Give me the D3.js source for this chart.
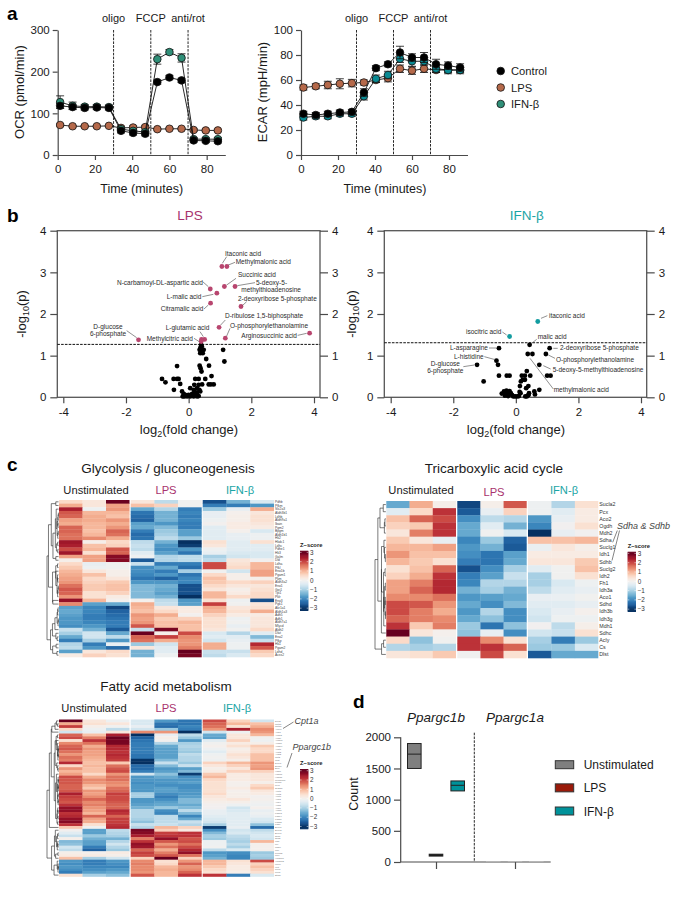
<!DOCTYPE html>
<html><head><meta charset="utf-8">
<script src="https://cdn.jsdelivr.net/npm/d3@7"></script>
<style>
html,body{margin:0;padding:0;background:#fff}
svg{display:block}
text{font-family:"Liberation Sans",Arial,sans-serif;fill:#1a1a1a}
</style></head><body>
<svg id="c" width="685" height="897"></svg>
<script>
// ---------- panel a ----------
const times=[1.3,8,14.5,21,27.5,34,40.5,47,53.5,60,66.5,73,79.5,86];
const ocrControl=[118,115,113,114,113,58,53,51,175,186,179,35,34,33];
const ocrLPS=[72,69,69,69,70,65,66,67,62,63,63,60,59,59];
const ocrIFN=[127,118,116,116,115,62,58,55,230,247,233,38,38,38];
const ocrControlErr=[6,5,5,5,5,5,5,5,5,5,5,4,4,4];
const ocrLPSErr=[3,2,2,2,2,4,4,4,2,2,2,3,3,3];
const ocrIFNErr=[15,9,5,5,5,4,4,4,12,6,10,4,4,4];
const ecarControl=[33,32,33,34,34.5,50,69.5,72.6,82,78,78,72.6,71.5,70];
const ecarLPS=[54,55,56,57,57.5,58,60,61.5,69,67.5,69,68,68,68];
const ecarIFN=[30,31,31,33,33,47,61,64,77,75,75,69,68,68];
const ecarControlErr=[2,2,2,2,2,3,2,2,5,3,4,4,3,3];
const ecarLPSErr=[2,2,3,4,3,2,2,3,3,3,3,2,2,2];
const ecarIFNErr=[2,2,2,2,2,3,3,3,3,4,3,3,3,3];
const injections=[30,50,70];
const injectionNames=["oligo","FCCP","anti/rot"];
const seriesNames=["Control","LPS","IFN-β"];

// ---------- panel b ----------
const lpsHits=[[1.06,3.14],[1.22,3.14],[.69,2.6],[1.14,2.66],[1.48,2.66],[.9,2.5],[.7,2.26],[1.67,2.18],[.97,1.68],[1.17,1.42],[3.86,1.54],[-1.6,1.38],[.51,1.39],[.41,1.39],[.4,1.34]];
const lpsOther=[[.4,1.26],[.38,1.2],[.42,1.22],[.35,1.14],[.43,1.14],[.48,1.14],[.37,1.06],[.45,1.06],[1.1,1.14],[1.14,.86],[.56,.92],[.65,.76],[-.37,.75],[.35,.76],[.38,.7],[.41,.62],[.73,.51],[-.85,.44],[-.74,.36],[-.48,.44],[-.37,.44],[-.32,.44],[-.27,.32],[-.47,.18],[.21,.44],[.32,.44],[.53,.44],[.64,.31],[.8,.31],[.71,.31],[.18,.3],[.32,.3],[.43,.31],[.27,.22],[.16,.18],[.05,.22],[.34,.18],[.37,.14],[-.21,.14],[-.16,.08],[-.11,.06],[0,.06],[.11,.08],[.21,.08],[-.19,.02],[-.14,.02],[-.05,.02],[.05,.02],[.16,.02],[.27,.02],[.32,.03],[.27,.11],[.19,.14]];
const ifnHits=[[.7,1.82],[-.2,1.46]];
const ifnOther=[[.44,1.26],[-.54,1.18],[1.08,1.18],[.96,1.04],[.38,1.04],[.53,1.04],[-.62,.88],[-.57,.78],[-1.24,.78],[.75,.78],[-1.03,.38],[-.54,.52],[-.29,.52],[-.2,.52],[.35,.63],[.46,.52],[1,.52],[1.11,.52],[.19,.52],[.29,.52],[.22,.42],[.16,.38],[.29,.42],[.13,.27],[.4,.27],[.75,.18],[.59,.14],[.61,.07],[-.45,.09],[-.38,.14],[-.33,.09],[-.3,.16],[-.27,.1],[-.22,.07],[-.2,.15],[-.16,.1],[-.12,.05],[-.08,.02],[-.02,.02],[.05,.02],[.1,.03],[.15,.1],[.3,.02],[.35,.02],[.4,.05],[.42,.1],[-.35,.04],[-.25,.03],[.12,.13],[.33,.22]];
const lpsLabels=[["Itaconic acid",225,253.3,"start"],["Methylmalonic acid",235.7,262,"start"],["Succinic acid",238,275,"start"],["5-deoxy-5-",256,282.7,"start"],["methylthioadenosine",241.3,290,"start"],["N-carbamoyl-DL-aspartic acid",117,282.7,"start"],["L-malic acid",166.7,297,"start"],["Citramalic acid",160.7,309,"start"],["2-deoxyribose 5-phosphate",238,298.3,"start"],["D-ribulose 1,5-biphosphate",225,315.7,"start"],["L-glutamic acid",165.7,327.3,"start"],["O-phosphorylethanolamine",230,325.7,"start"],["D-glucose",108,326.7,"middle"],["6-phosphate",108,333.7,"middle"],["Methylcitric acid",146.7,338.3,"start"],["Arginosuccinic acid",241.3,335.3,"start"]];
const lpsLeaders=[[680,170,667,190],[705,187,685,195],[708,235,680,255],[765,248,712,257],[608,245,625,260],[607,290,640,283],[612,327,625,315],[740,305,728,316],[676,360,662,375],[690,385,680,408],[600,395,610,410],[582,415,598,425],[380,392,410,413],[893,406,920,400]];
const ifnLabels=[["itaconic acid",549,315.7,"start"],["isocitric acid",466,332,"start"],["malic acid",537.7,336.7,"start"],["L-asparagine",450,347.7,"start"],["2-deoxyribose 5-phosphate",560,348,"start"],["L-histidine",454,356.3,"start"],["O-phosphorylethanolamine",556,359.3,"start"],["D-glucose",445.3,363.7,"middle"],["6-phosphate",445.3,371,"middle"],["5-deoxy-5-methylthioadenosine",552.7,369.7,"start"],["methylmalonic acid",553.7,390,"start"]];
const ifnLeaders=[[622,347,603,355],[487,396,500,405],[590,418,575,430],[447,444,470,444],[640,445,653,445],[433,470,462,478],[625,465,645,475],[370,500,403,495],[610,497,632,507],[570,475,640,567]];

// ---------- panel c ----------
const groupNames=["Unstimulated","LPS","IFN-β"];
const glycoGenes=["Pdhb","Pfkm","Slc2a3","Aldh3b1","Ldhb","Aldh9a1","Ibain","Pgm2","Bpgm","Aldh1b1","Hk2","Hkdc1","Ldhc","Pdhe1","Hk3","Galm","Dld","Ldha","Pfkl","Eno1b","Pgam1","Pkm","Aldh3a2","Eno1","Gpi1","Tpi1","Pklr","Eno3","Pgk1","Akr1a1","Aldh1a3","Adh5","Adh1","Aldh7a1","Mlycd","Aldh2","Dlat","Eno2","Pfkp","Hk1","Pgam2","Ldhd","Acss2"];
const glycoRows=[
[.5,.3,2.7,.3,-.7,-.05,-2.4,-1.3,-.4],[1,.3,1.1,.8,.6,-.05,-1.9,-1.9,-1.6],[2.2,-.1,1.2,-1.4,-.8,-1.9,-1,-.2,1],[1.7,.9,.9,-2,-1.3,-1.8,-.2,.05,.3],[1.6,1,.8,-2.1,-1.3,-1.9,-.2,.1,.4],[1.1,1,1.2,-2.2,-1.3,-1.8,-.1,.1,.4],[1,.9,1,-1.5,-1.6,-1.9,0,.2,.3],[1.6,.9,1.2,-1.4,-1.2,-1.9,-.3,.2,.2],[1.6,.8,1.6,-1.9,-1,-1.5,-.3,.05,-.4],[1.5,.9,1.5,-2.1,-.9,-1.5,-.3,-.2,-.1],[1.5,1.3,1,-2,-.7,-1,-.3,-.2,-.1],
[2.3,.1,.5,-.7,-1.3,-2.8,.4,-.3,.4],[2.2,.8,.6,-.6,-1.6,-2.6,.3,-.3,-.3],[1.8,.9,1.7,-.7,-1.7,-1.6,-.1,-.3,-.3],[2.3,.4,1.6,-.3,-1.5,-2,-.2,-.4,-.4],[1.1,1.1,2.5,-.1,-.8,-.7,-.9,-.5,-.4],[.1,1.1,2.5,-2.3,-.8,-.7,-.7,.3,0],[.5,-.2,-.05,-.6,-1.9,-1.9,1.8,.4,.9],[.7,-.1,-.05,-1.7,-1.4,-2.1,1.8,.5,.9],[.9,.3,.1,-1.7,-1.9,-.9,-.05,-.5,1.1],[1,.8,.1,-1.8,-1.6,-2,.5,.1,1.1],[1.1,.5,.3,-2,-2.2,-1.8,.8,.1,.1],
[1.2,.6,.7,-1.6,-1.6,-1.8,.7,.5,.6],[1.5,.7,.8,-1.2,-1.3,-2.4,.5,.3,.3],[1.7,.7,.8,-1.2,-1.4,-2.4,.3,.1,.4],[1.6,.4,.6,-1.2,-1.5,-2.4,.9,.2,.5],[1.2,.4,.2,-1.2,-1.3,-2.8,.9,.5,.5],[2.4,.9,.05,.05,-.7,-1.6,.4,-.1,-2.4],[1.3,-1.5,-1.4,1,-.6,-1.5,1.9,-.05,.3],
[-1.5,-1.8,-2.5,.9,.3,.2,1,.3,.4],[-1.4,-1.8,-2.2,.8,.5,.2,.9,.4,1],[-1.5,-1.9,-2.1,1.2,1,0,.6,.2,.2],[-1.6,-1.9,-2,1.1,.7,.6,.4,-.1,.3],[-1.6,-1.8,-1.9,1.2,.8,.9,.4,-.05,.3],[-1.7,-1.6,-1.9,1.7,.8,.8,.4,-.2,.3],[-.6,-1.3,-2.3,-.6,2.6,.8,.3,-.05,.5],[-.9,-.5,-1.4,2.7,.1,1.8,-.4,-.8,-.3],[-1.4,-.5,-.7,1.6,1.9,1.3,-.3,-.3,-1.2],[-1.9,-.9,-1.6,1.5,1,1.2,-.5,-.2,-.6],[-.8,-1.9,-.2,-1,-.5,1.2,1,-.1,2.1],[-.7,-1.6,-2.1,.3,-.3,1.4,1,-.1,1.7],[-1.5,.3,.5,-1.3,-.3,2.8,-.6,-.6,.7],[.2,.6,.4,-1.3,-.1,2.6,-.7,-.4,.5]];
const tcaGenes=["Sucla2","Pcx","Aco2","Ogdh","Mdh2","Sdha","Suclg1","Idh1","Sdhb","Suclg2","Idh2","Fh1","Idh3a","Aco1","Sdhd","Idh3b","Idh3g","Mdh1","Sdhc","Acly","Cs","Dlst"];
const tcaRows=[
[-1.4,1,.1,-2.5,.1,1.7,-.1,-.8,.4],[-.3,.5,2,-2.3,-.2,.6,-.1,-.3,.2],[.8,1.6,1.8,-1.7,-.7,-.8,-1.6,-.2,.2],[.6,.7,2,-1.4,-.3,-1.3,-1.8,-.02,.4],[.3,1.4,2,-1.4,-.03,-.4,-2.9,-.2,-.02],[.7,.3,-.2,-1.8,-1,-2.2,.8,.8,.9],[.9,.9,1.1,-1.6,-1.3,-2.3,-.15,.3,.1],[1.2,.8,.8,-1.7,-2,-1.5,.2,.2,.2],[.9,.7,.4,-1.9,-2,-1.4,.3,.3,.7],[.4,.8,1.6,-2.4,-1.7,-.9,-.3,-.05,.8],[.6,1,2,-1.9,-1.5,-.6,-.9,-.03,.4],[1.1,1.4,2.1,-1.8,-.8,-.8,-.9,-.4,-.1],[1.1,1.6,2.1,-1.3,-.9,-1.3,-.7,-.3,-.2],[1.3,1.3,1.5,-1.6,-1.5,-1.4,-.2,-.15,-.05],[1.8,1.7,1.2,-1.4,-1.7,-1.2,-.3,-.3,-.2],[1.8,1.4,1,-1.6,-.8,-1.7,-.4,-.2,.05],[1.6,1.4,1.3,-1.4,-1.1,-1.7,-.5,-.1,-.1],[2,.7,1.4,-1,-2,-1.1,-.02,-.7,.1],[3,.3,.05,-1.1,-.2,-1.7,-.5,-.6,.4],[.5,-1.1,-.05,2,1.3,.4,-.9,-1.9,-1],[-.8,-.9,-.8,2,2,1.6,-1,-1,-.4],[.3,.4,.7,-.05,1.8,.4,-2.3,-1.4,-1.4]];
const fattyGenes=["Dcn2","Cpt1b","Cpt1a","Acox1","Acsl1","Acaa2","Acadl","Acadm","Acads","Acadvl","Acat1","Acat2","Aldh2","Cpt2","Crat","Decr1","Echs1","Eci1","Hadh","Hadha","Hadhb","Ppargc1b","Ppara","Pecr","Slc25a","Acot1","Acot2","Acot7","Acsl3","Acsl4","Acsl5","Acsl6","Acss1","Fabp3","Fabp4","Fads1","Fads2","Fasn","Elovl1","Elovl5","Elovl6","Scd1","Scd2","Mgll","Lpl","Cd36","Ldlr","Pnpla2","Lipe","Hmgcs1","Hmgcs2","Mcee","Mut","Pcca","Pccb","Etfdh"];
const fattyRows=[
[2.8,.3,-.1,-.4,-1.6,-2,1.8,.6,-.5],[1,.4,.3,-.4,-2,-2,1.6,.9,.8],[1.9,.1,-.05,-.2,-2.1,-1.8,1.5,.4,1],[.5,-.1,-.7,-.5,-1,-1.9,1.2,2.2,1.3],[-.5,-.2,.3,1.3,1.2,-2.9,-.5,-.1,1.2],[1.6,.8,2.2,-3,-.2,-.7,-1.4,.3,.9],[1.8,1.4,2.7,-2.2,.1,-1,-1.5,.3,-.05],[.4,2,2.6,-2,.02,-1.6,-.3,.6,-.1],[1.3,1.5,2.6,-1.9,-.8,-.9,-.05,.2,.1],[1.6,1,2.1,-1.9,-1.4,-.8,.05,.4,.7],[1.7,1.2,2.1,-1.9,-1.5,-.9,-.1,.1,.5],[1.5,1.1,2,-1.9,-1.5,-1,-.3,.2,.5],[1.2,1.1,2.1,-2,-1.5,-.7,-.1,.4,.8],[1.5,1,2,-2,-1.5,-.8,-.05,.3,.8],[1.4,.9,1.9,-2.7,-1.2,-.8,-.1,.1,.8],[2.1,.8,.7,-2.8,-.6,-1,.6,.9,1.2],[.5,.9,1.5,-2.1,-1.2,-.6,.3,.6,1.1],[1.2,.8,1.7,-2.1,-1.6,-1.5,.1,.3,1.2],[.9,.8,1.8,-1.9,-1.5,-1.2,.2,.6,.6],[1.1,.5,1.2,-.5,-1.1,-2.6,.7,.2,.3],[1.8,1,1.5,-1.6,-1.4,-1.7,.9,.2,.3],[1.7,1.3,1.5,-1.6,-1.6,-1.6,.5,.2,.3],[1.7,1.2,1.3,-1.7,-1.6,-1.5,.4,.05,.1],[1.6,.9,1.2,-1.6,-1.7,-1.7,.4,.05,.5],[1.6,.7,1.5,-1.6,-1.5,-1.7,.4,.2,.7],[1.7,1.2,1.6,-1.6,-1.5,-1.6,.4,.05,.3],[2.2,1.1,1.9,-.9,-1.7,-1.6,.5,.1,.2],[1.9,1.3,1.8,-.9,-1.9,-1.5,.3,.1,0],[1.8,1.6,1.8,-1.6,-1.7,-1.2,.2,.3,.05],[1.7,1.3,1.7,-1.6,-1.5,-1.2,.1,.1,-.05],[2,1.4,1.6,-1.5,-1.4,-1.4,0,-.1,-.1],[2.4,1.2,1.6,-1.3,-1,-1.2,-.02,-.5,.05],[2.4,1.1,2.1,-.8,-1.7,-.7,-.2,-.4,-.2],[2,.9,2,-.8,-1.8,-1.2,-.2,-.3,-.1],[2.1,1.6,1.6,-.8,-.7,-1.8,-.3,-.3,-.2],[2.4,1.1,1.9,-.9,-.7,-1.4,-.4,-.3,-.4],[2.5,1,1.9,-1.1,-.7,-.6,-.5,-.3,-.5],[2,.4,2,-.6,-.6,-.8,-.9,-.3,-1.1],[.7,-.05,2.1,-.8,.9,.6,-2.6,-.2,-2.1],[0,-1.5,-.7,2.6,.6,.2,-1.7,-.5,-.7],[-.3,-1.5,-.8,2.5,1.9,2,-1.2,-.4,-.5],[-.6,-1,-.9,2.2,2,2,-.9,-.7,-.4],[.1,-1.3,-1.3,1.4,2.4,1.7,-1,-.8,-.5],[-1.2,-1.5,-.8,2,1.7,1.8,-.1,-.9,.9],[-1.1,-1.5,-.5,2.4,1.2,1.5,-.1,-.7,.05],[-.5,-1.9,-.8,2.3,1.5,1.8,-.05,-.9,.05],[-.7,-2.2,-1,1.6,1,2.1,-.7,-.4,.05],[.1,.05,.2,1.9,1.4,2.4,-1.6,-1.7,-1],[.2,.2,.1,1.8,1.7,1.5,-1.5,-1.8,-.9],[.8,-.9,-.5,.6,3,.6,-1.3,-1.8,-1],[-1.6,-1.9,-1.6,1.3,.4,1.2,.9,.4,1.8],[-1.7,-1.9,-1.7,1.4,.5,1.6,.9,.3,.6],[-1.6,-1.8,-1.8,1.3,.9,1.2,.7,.2,.8],[-1.7,-1.7,-1.6,1.3,1,1.3,.5,.2,.6],[-1.9,-1.5,-1.4,1.2,.9,1.6,.4,.1,.4],[.4,-.9,-1.1,1.7,.9,2,2,-1.9,-.4]];
const zTicks=[3,2,1,0,-1,-2,-3];

// ---------- panel d ----------
const genes=["Ppargc1b","Ppargc1a"];
const countGroups=["Unstimulated","LPS","IFN-β"];
const countLow=[[1500,95,1140],[2,2,2]];
const countMid=[[1730,110,1230],[4,4,4]];
const countHigh=[[1900,125,1300],[6,6,6]];
const countTicks=[0,500,1000,1500,2000];

// ---------- drawing ----------
const svg=d3.select("#c");
const INK="#1a1a1a", AX="#4a4a4a";
const cLPS="#b5694a", cIFNa="#2f8f78", cIFNe="#0a8a93";
const magenta="#a8336d", teal="#1ba5a5";

function txt(g,s,x,y,o={}){
  const t=g.append("text").attr("x",x).attr("y",y).text(s)
    .attr("font-size",o.size||11).attr("text-anchor",o.anchor||"start");
  if(o.color)t.style("fill",o.color);
  if(o.italic)t.attr("font-style","italic");
  if(o.bold)t.attr("font-weight","bold");
  if(o.rotate)t.attr("transform",`rotate(-90 ${x} ${y})`);
  return t;
}
function styleAxis(g,w,size,pad){
  g.selectAll("path,line").attr("stroke",AX).attr("stroke-width",w);
  g.selectAll("text").attr("font-size",size).attr("font-family",'"Liberation Sans",Arial,sans-serif').style("fill",INK);
}
// letters
[["a",7,20],["b",7,222],["c",7,471],["d",353,708]].forEach(d=>txt(svg,d[0],d[1],d[2],{size:19,bold:true,color:"#000"}));

// panel a
function seahorse(o){
  const g=svg.append("g");
  const x=d3.scaleLinear().domain([0,90]).range([o.x0,o.x1]);
  const y=d3.scaleLinear().domain([0,o.max]).range([155,30]);
  g.append("g").attr("transform","translate(0,155)").call(d3.axisBottom(x).tickValues([0,20,40,60,80]).tickSize(5).tickSizeOuter(0).tickPadding(5)).call(s=>styleAxis(s,1.2,11.5));
  g.append("g").attr("transform",`translate(${o.x0},0)`).call(d3.axisLeft(y).tickValues(o.ticks).tickSize(5).tickSizeOuter(0).tickPadding(3)).call(s=>styleAxis(s,1.2,11.5));
  injections.forEach((t,i)=>{
    g.append("line").attr("x1",x(t)).attr("x2",x(t)).attr("y1",30).attr("y2",155).attr("stroke","#111").attr("stroke-width",.9).attr("stroke-dasharray","2.6,1.2");
    txt(g,injectionNames[i],x(t),22,{anchor:"middle",size:11});
  });
  const line=d3.line().x((d,i)=>x(times[i])).y(d=>y(d));
  o.series.forEach(s=>{
    g.append("path").attr("d",line(s.v)).attr("fill","none").attr("stroke","#111").attr("stroke-width",.9);
    s.v.forEach((v,i)=>{
      const xx=x(times[i]);
      const lo=y(v-s.e[i]),hi=y(v+s.e[i]);
      g.append("path").attr("d",`M${xx},${lo}V${hi}M${xx-4},${lo}H${xx+4}M${xx-4},${hi}H${xx+4}`).attr("stroke","#111").attr("stroke-width",.8).attr("fill","none");
    });
    g.selectAll(null).data(s.v).join("circle").attr("cx",(d,i)=>x(times[i])).attr("cy",d=>y(d)).attr("r",3.8).attr("fill",s.c).attr("stroke","#111").attr("stroke-width",.8);
  });
  txt(g,o.label,o.lx,92,{anchor:"middle",size:13,rotate:true});
  txt(g,"Time (minutes)",o.tx,192.5,{anchor:"middle",size:12.5});
}
seahorse({x0:57.7,x1:225.3,max:300,ticks:[0,100,200,300],label:"OCR (pmol/min)",lx:24,tx:141.7,
  series:[{v:ocrLPS,e:ocrLPSErr,c:cLPS},{v:ocrIFN,e:ocrIFNErr,c:cIFNa},{v:ocrControl,e:ocrControlErr,c:"#000"}]});
seahorse({x0:301,x1:467.5,max:100,ticks:[0,20,40,60,80,100],label:"ECAR (mpH/min)",lx:267,tx:385,
  series:[{v:ecarLPS,e:ecarLPSErr,c:cLPS},{v:ecarIFN,e:ecarIFNErr,c:cIFNe},{v:ecarControl,e:ecarControlErr,c:"#000"}]});
seriesNames.forEach((n,i)=>{
  const yy=d3.scalePoint().domain(seriesNames).range([71,104])(n);
  svg.append("circle").attr("cx",500.7).attr("cy",yy).attr("r",3.8).attr("fill",["#000",cLPS,cIFNa][i]).attr("stroke","#111").attr("stroke-width",.8);
  txt(svg,n,511,yy+4,{size:11.2});
});

// panel b
function volcano(o){
  const g=svg.append("g");
  const x=d3.scaleLinear().domain([-4,4]).range([o.xm4,o.xp4]);
  const y=d3.scaleLinear().domain([0,4]).range([397.3,230.7]);
  const vals=[0,1,2,3,4];
  g.append("rect").attr("x",o.l).attr("y",230.7).attr("width",o.r-o.l).attr("height",166.6).attr("fill","none").attr("stroke","#555").attr("stroke-width",1.3);
  g.append("g").attr("transform","translate(0,397.3)").call(d3.axisBottom(x).tickValues([-4,-2,0,2,4]).tickFormat(d=>d).tickSize(6).tickSizeOuter(0).tickPadding(5)).call(s=>styleAxis(s,1.2,11.5)).call(s=>s.select(".domain").remove());
  g.append("g").attr("transform",`translate(${o.l},0)`).call(d3.axisLeft(y).tickValues(vals).tickFormat(d=>d).tickSize(7).tickSizeOuter(0).tickPadding(4)).call(s=>styleAxis(s,1.2,11.5)).call(s=>s.select(".domain").remove());
  g.append("g").attr("transform",`translate(${o.r},0)`).call(d3.axisRight(y).tickValues(vals).tickFormat(d=>d).tickSize(8).tickSizeOuter(0).tickPadding(4)).call(s=>styleAxis(s,1.2,11.5)).call(s=>s.select(".domain").remove());
  g.append("line").attr("x1",o.l).attr("x2",o.r).attr("y1",y(o.thr)).attr("y2",y(o.thr)).attr("stroke","#111").attr("stroke-width",1).attr("stroke-dasharray","2.6,1.2");
  g.selectAll(null).data(o.other).join("circle").attr("cx",d=>x(d[0])).attr("cy",d=>y(d[1])).attr("r",2.4).attr("fill","#000");
  g.selectAll(null).data(o.hits).join("circle").attr("cx",d=>x(d[0])).attr("cy",d=>y(d[1])).attr("r",2.4).attr("fill",o.hc);
  o.leaders.forEach(d=>g.append("line").attr("x1",o.ox+d[0]/3).attr("y1",200+d[1]/3).attr("x2",o.ox+d[2]/3).attr("y2",200+d[3]/3).attr("stroke","#222").attr("stroke-width",.5));
  o.labels.forEach(d=>txt(g,d[0],d[1],d[2]+2.2,{size:6.5,anchor:d[3],color:"#2a2a2a"}));
  txt(g,o.title,o.tc,o.ty,{anchor:"middle",size:13.5,color:o.tcol});
  const yl=g.append("text").attr("transform",`translate(${o.ylx},314) rotate(-90)`).attr("text-anchor","middle").attr("font-size",13);
  yl.append("tspan").text("-log");yl.append("tspan").text("10").attr("font-size",9).attr("dy",3);yl.append("tspan").text("(p)").attr("dy",-3);
  const xl=g.append("text").attr("x",o.xlx).attr("y",434).attr("text-anchor","middle").attr("font-size",13);
  xl.append("tspan").text("log");xl.append("tspan").text("2").attr("font-size",9).attr("dy",3);xl.append("tspan").text("(fold change)").attr("dy",-3);
}
volcano({l:57.3,r:320,xm4:63.3,xp4:314,thr:1.27,hits:lpsHits,other:lpsOther,hc:"#b8466f",labels:lpsLabels,leaders:lpsLeaders,ox:0,title:"LPS",tc:190,ty:220,tcol:magenta,ylx:26,xlx:189});
volcano({l:384.3,r:646.7,xm4:390.7,xp4:641,thr:1.31,hits:ifnHits,other:ifnOther,hc:"#129ca0",labels:ifnLabels,leaders:ifnLeaders,ox:340,title:"IFN-β",tc:526.7,ty:220,tcol:teal,ylx:356,xlx:516});

// panel c
const colorKey=d3.scaleSequential(d3.interpolateRdBu).domain([3,-3]);
const colorZ=d=>colorKey(Math.max(-3,Math.min(3,d*1.1)));
function adjacentClusters(rows){
  let nodes=rows.map((r,i)=>({lo:i,hi:i,y:i+.5,h:0}));
  const dist=(a,b)=>{let m=0;for(let i=a.lo;i<=a.hi;i++)for(let j=b.lo;j<=b.hi;j++){m=Math.max(m,Math.sqrt(d3.sum(rows[i],(v,k)=>(v-rows[j][k])**2)));}return m;};
  const merges=[];
  while(nodes.length>1){
    let best=0,bd=Infinity;
    for(let i=0;i<nodes.length-1;i++){const d=dist(nodes[i],nodes[i+1]);if(d<bd){bd=d;best=i;}}
    const a=nodes[best],b=nodes[best+1];
    const n={lo:a.lo,hi:b.hi,y:(a.y+b.y)/2,h:Math.max(bd,a.h,b.h),a,b};
    merges.push(n);nodes.splice(best,2,n);
  }
  return merges;
}
function heatmap(o){
  const g=svg.append("g");
  const n=o.rows.length;
  const y=d3.scaleLinear().domain([0,n]).range([o.y0,o.y0+157]);
  const rh=157/n;
  const x=c=>{const gi=Math.floor(c/3);return o.gx[gi][0]+(c-gi*3)*(o.gx[gi][1]-o.gx[gi][0])/3;};
  const cw=c=>{const gi=Math.floor(c/3);return (o.gx[gi][1]-o.gx[gi][0])/3;};
  o.rows.forEach((r,ri)=>{
    g.selectAll(null).data(r).join("rect").attr("x",(d,c)=>x(c)).attr("y",y(ri)).attr("width",(d,c)=>cw(c)+(c%3==2?0:.3)).attr("height",rh+.3).attr("fill",d=>colorZ(d));
  });
  const merges=adjacentClusters(o.rows);
  const hmax=d3.max(merges,d=>d.h);
  const dx=h=>o.dr-(o.dr-o.dl)*Math.pow(h/hmax,1.4);
  merges.forEach(m=>{
    g.append("path").attr("d",`M${dx(m.a.h)},${y(m.a.y)}H${dx(m.h)}V${y(m.b.y)}H${dx(m.b.h)}`).attr("fill","none").attr("stroke","#222").attr("stroke-width",.6);
  });
  o.genes.forEach((s,i)=>txt(g,s,o.gx[2][1]+1,y(i+.5)+o.ls*.35,{size:o.ls,color:o.lc}));
  txt(g,o.title,o.tx,o.ty,{anchor:"middle",size:13.5});
  txt(g,groupNames[0],o.hx[0],o.hy,{anchor:"middle",size:11.2});
  txt(g,groupNames[1],o.hx[1],o.hy+o.lpsDy,{anchor:"middle",size:11.2,color:magenta});
  txt(g,groupNames[2],o.hx[2],o.hy,{anchor:"middle",size:11.2,color:teal});
  const ky=d3.scaleLinear().domain([3,-3]).range([o.ky+1.7,o.ky+57.5]);
  const steps=d3.range(3.18,-3.18,-.06);
  g.selectAll(null).data(steps).join("rect").attr("x",o.kx).attr("y",d=>ky(d)).attr("width",8.3).attr("height",1.1).attr("fill",d=>colorKey(Math.max(-3,Math.min(3,d))));
  zTicks.forEach(t=>{
    g.append("path").attr("d",`M${o.kx},${ky(t)}h1.6M${o.kx+8.3},${ky(t)}h-1.6`).attr("stroke","#fff").attr("stroke-width",.5);
    txt(g,t<0?"−"+(-t):t,o.kx+10,ky(t)+2.2,{size:6.3,color:"#333"});
  });
  txt(g,"Z−score",o.kx,o.ky-4,{size:5.8,bold:true});
}
heatmap({rows:glycoRows,genes:glycoGenes,y0:500,gx:[[59,129.5],[130.7,201.7],[202.7,274]],dl:47,dr:58.5,ls:3.3,lc:"#444",title:"Glycolysis / gluconeogenesis",tx:168,ty:473,hx:[96,166,240],hy:494,lpsDy:0,kx:300,ky:550.7});
heatmap({rows:tcaRows,genes:tcaGenes,y0:501,gx:[[386.3,456],[457.3,526.7],[528,598.3]],dl:375,dr:385.8,ls:5.3,lc:"#333",title:"Tricarboxylic acid cycle",tx:494,ty:473,hx:[421,494,564],hy:494,lpsDy:2,kx:627.7,ky:551.7});
heatmap({rows:fattyRows,genes:fattyGenes,y0:719.5,gx:[[59,129.5],[130.7,201.7],[202.7,274]],dl:47,dr:58.5,ls:2.4,lc:"#777",title:"Fatty acid metabolism",tx:166,ty:690.7,hx:[94,166,237],hy:711.7,lpsDy:0,kx:300,ky:769});
txt(svg,"Sdha & Sdhb",617,529,{italic:true,size:9,color:"#444"});
txt(svg,"Cpt1a",294.5,724,{italic:true,size:9,color:"#444"});
txt(svg,"Ppargc1b",292.5,750,{italic:true,size:9,color:"#444"});
[[617.3,530.5,612.7,542.3],[619.5,530.5,612,560.5],[293.5,722,283,728.5],[292,753,287,767.5]].forEach(d=>
  svg.append("line").attr("x1",d[0]).attr("y1",d[1]).attr("x2",d[2]).attr("y2",d[3]).attr("stroke","#333").attr("stroke-width",.6));

// panel d
(function(){
  const g=svg.append("g");
  const y=d3.scaleLinear().domain([0,2000]).range([862,737.3]);
  const x0=d3.scalePoint().domain(genes).range([436,515]);
  const x1=d3.scalePoint().domain(countGroups).range([-21.7,21.7]);
  const colors=["#7f7f7f","#9a1a0a","#00929a"];
  g.append("path").attr("d","M400.7,737.3V862H550.7").attr("fill","none").attr("stroke",AX).attr("stroke-width",1.2);
  g.append("g").attr("transform","translate(400.7,0)").call(d3.axisLeft(y).tickValues(countTicks).tickFormat(d3.format("d")).tickSize(6.7).tickSizeOuter(0).tickPadding(3)).call(s=>styleAxis(s,1.2,11.5)).call(s=>s.select(".domain").remove());
  g.append("g").attr("transform","translate(0,862)").call(d3.axisBottom(x0).tickSize(7).tickFormat("").tickSizeOuter(0)).call(s=>styleAxis(s,1.2,11.5)).call(s=>s.select(".domain").remove());
  g.append("line").attr("x1",474.3).attr("x2",474.3).attr("y1",732.7).attr("y2",862).attr("stroke","#111").attr("stroke-width",.9).attr("stroke-dasharray","2.6,1.2");
  genes.forEach((gn,gi)=>{
    txt(g,gn,x0(gn),721.7,{anchor:"middle",size:13.5,italic:true});
    countGroups.forEach((cg,i)=>{
      const cx=x0(gn)+x1(cg);
      const tiny=gi==1;
      const hw=tiny?7:6.8;
      g.append("rect").attr("x",cx-hw).attr("y",y(countHigh[gi][i])).attr("width",hw*2).attr("height",y(countLow[gi][i])-y(countHigh[gi][i])).attr("fill",tiny?"#bbb":(i==1?"#111":colors[i])).attr("stroke",tiny?"#bbb":"#222").attr("stroke-width",tiny?.4:1);
      if(!tiny)g.append("line").attr("x1",cx-hw).attr("x2",cx+hw).attr("y1",y(countMid[gi][i])).attr("y2",y(countMid[gi][i])).attr("stroke","#222").attr("stroke-width",1);
    });
  });
  txt(g,"Count",358,794,{anchor:"middle",size:12.5,rotate:true});
  countGroups.forEach((cg,i)=>{
    const yy=d3.scalePoint().domain(countGroups).range([760.7,807])(cg);
    g.append("rect").attr("x",555.3).attr("y",yy).attr("width",18.4).attr("height",8).attr("fill",colors[i]).attr("stroke","#333").attr("stroke-width",1);
    txt(g,cg,583.7,yy+8.5,{size:12});
  });
})();
</script></body></html>
